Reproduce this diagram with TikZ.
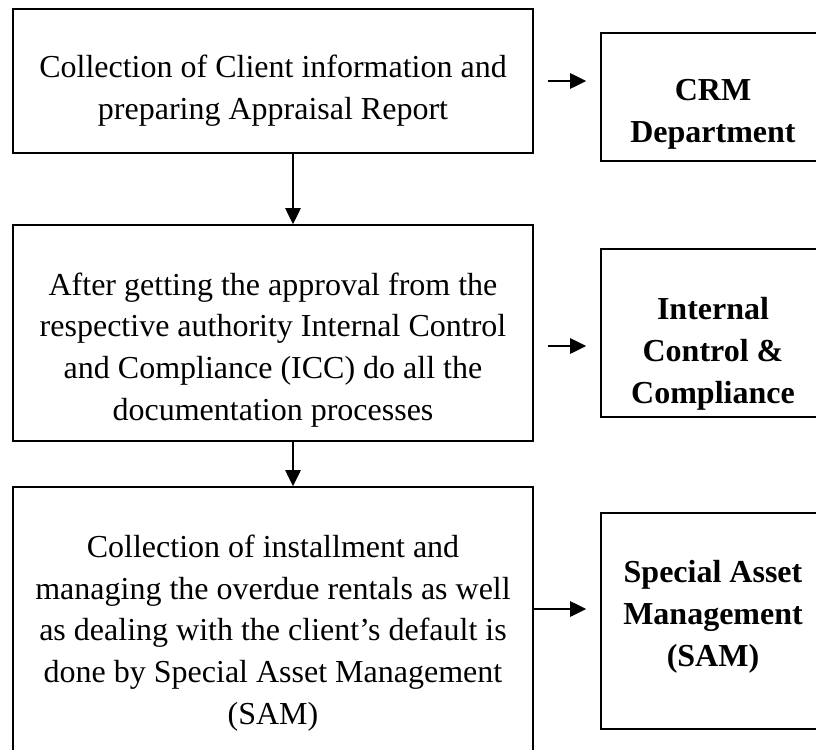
\documentclass[tikz,border=0pt]{standalone}
\usepackage{fontspec}
\setmainfont{Liberation Serif}
\usetikzlibrary{arrows.meta}

\begin{document}
\begin{tikzpicture}[
    x = 0.75pt, y = -0.75pt,
    every node/.style = {font = \fontsize{24pt}{31.3pt}\selectfont},
    frame/.style = {draw, line width = 1.2pt, inner sep = 0pt},
    txt/.style = {align = center, inner sep = 0pt},
    head/.style = {txt, font = \fontsize{24pt}{31.3pt}\selectfont\bfseries},
    flow/.style = {line width = 1.2pt, -{Triangle[length=12pt, width=11.5pt]}}]

\useasboundingbox (0,0) rectangle (816,749);

% process boxes
\node[frame, minimum width=390pt, minimum height=108pt] (collect) at (273,81) {};
\node[frame, minimum width=390pt, minimum height=162pt] (approve) at (273,333) {};
\node[frame, minimum width=390pt, minimum height=216pt] (recover) at (273,631) {};
\node[txt] (collect-t) at (273,91) {Collection of Client information and\\preparing Appraisal Report};
\node[txt] (approve-t) at (273,350) {After getting the approval from the\\respective authority Internal Control\\and Compliance (ICC) do all the\\documentation processes};
\node[txt] (recover-t) at (273,633) {Collection of installment and\\managing the overdue rentals as well\\as dealing with the client’s default is\\done by Special Asset Management\\(SAM)};

% departments
\node[frame, minimum width=168pt, minimum height=96pt] (crm) at (713,97) {};
\node[frame, minimum width=168pt, minimum height=126pt] (icc) at (713,333) {};
\node[frame, minimum width=168pt, minimum height=162pt] (sam) at (713,621) {};
\node[head] (crm-t) at (713,114) {CRM\\Department};
\node[head] (icc-t) at (713,354) {Internal\\Control \&\\Compliance};
\node[head] (sam-t) at (713,617) {Special Asset\\Management\\(SAM)};

\draw[flow] ([xshift=15pt]collect.south) -- ([xshift=15pt]approve.north);
\draw[flow] ([xshift=15pt]approve.south) -- ([xshift=15pt]recover.north);
\draw[flow, shorten <=10.5pt, shorten >=10.5pt] (collect.east) -- (collect.east -| crm.west);
\draw[flow, shorten <=10.5pt, shorten >=10.5pt] ([yshift=-9.75pt]approve.east) -- ([yshift=-9.75pt]approve.east -| icc.west);
\draw[flow, shorten >=10.5pt] ([yshift=16.5pt]recover.east) -- ([yshift=16.5pt]recover.east -| sam.west);
\end{tikzpicture}
\end{document}
